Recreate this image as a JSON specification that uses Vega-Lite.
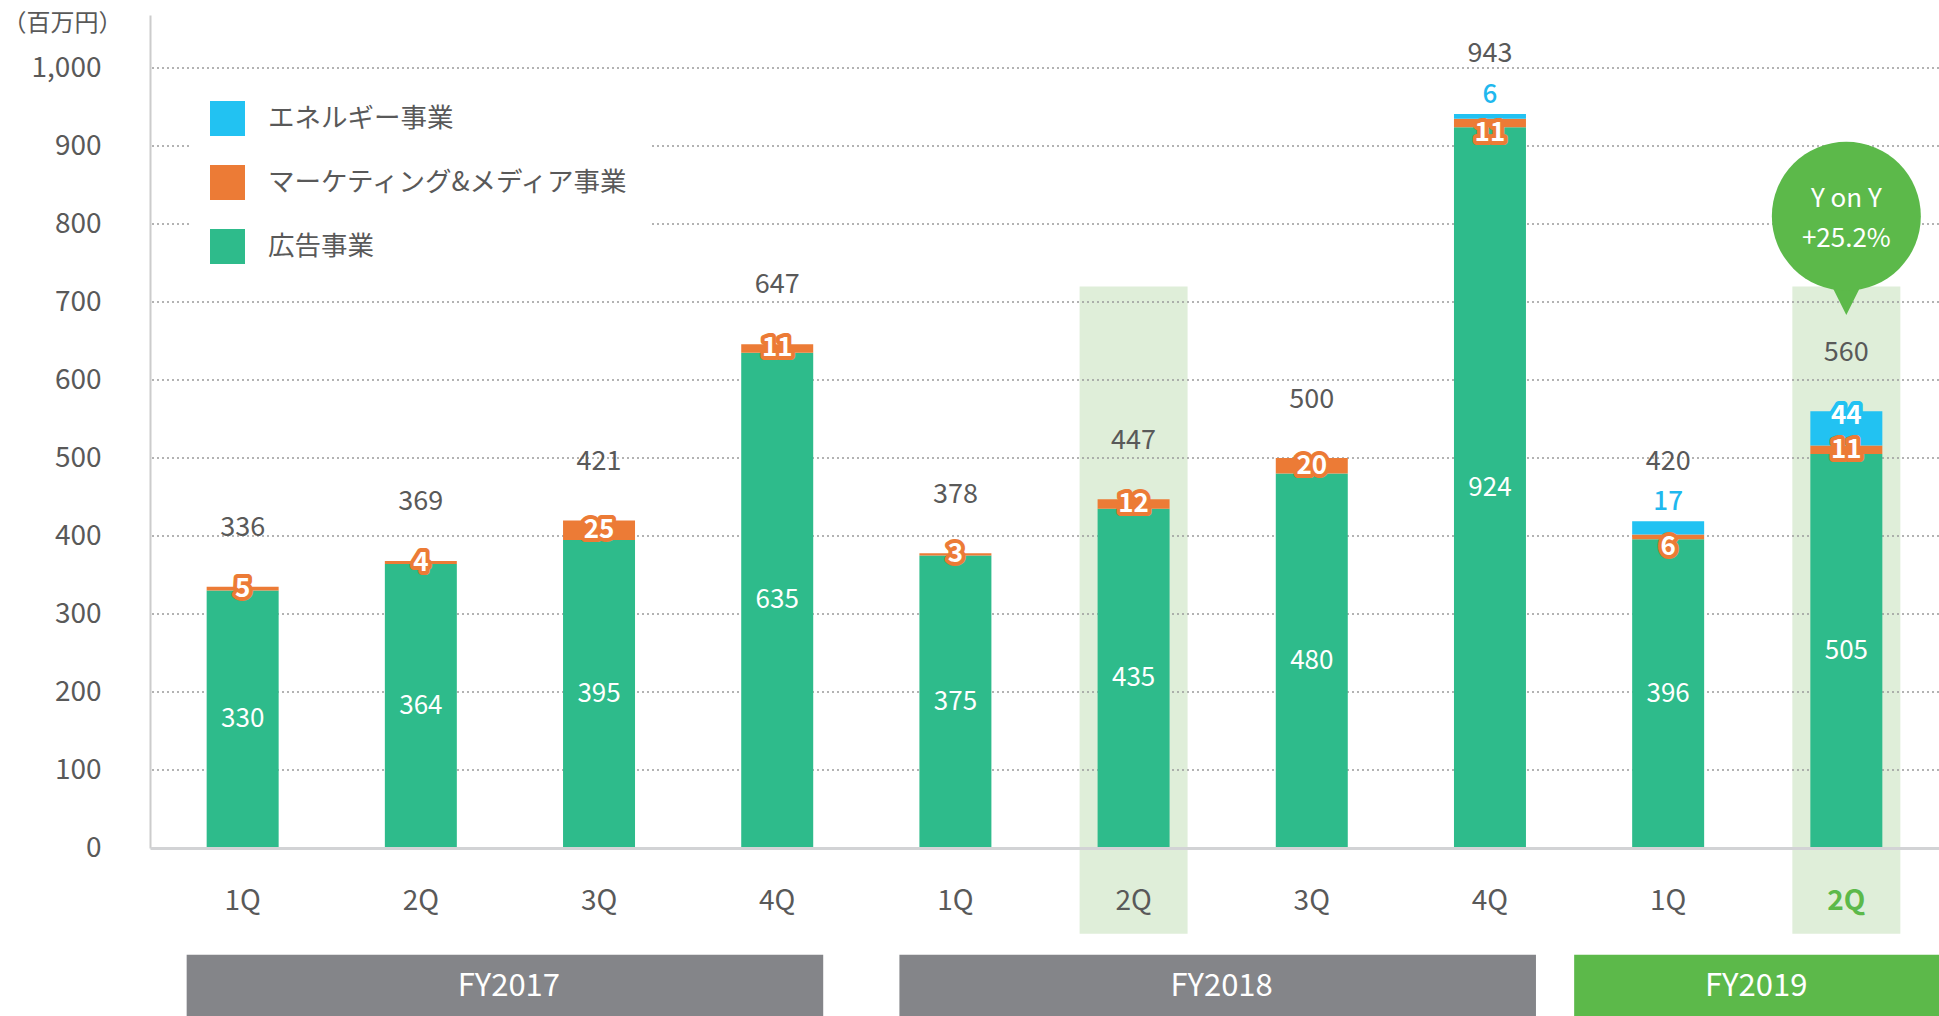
{
  "$schema": "https://vega.github.io/schema/vega-lite/v6.json",
  "autosize": {"type": "none"},
  "width": 1789,
  "height": 833,
  "padding": {"left": 150, "top": 15, "right": 0, "bottom": 168},
  "background": "white",
  "config": {"font": "Noto Sans CJK JP", "view": {"stroke": null}, "axis": {"grid": false, "ticks": false, "tickSize": 0}},
  "datasets": {
    "seg": [
      {"q": "FY2017 1Q", "seg": "広告事業", "v": 330},
      {"q": "FY2017 1Q", "seg": "マーケティング&メディア事業", "v": 5},
      {"q": "FY2017 2Q", "seg": "広告事業", "v": 364},
      {"q": "FY2017 2Q", "seg": "マーケティング&メディア事業", "v": 4},
      {"q": "FY2017 3Q", "seg": "広告事業", "v": 395},
      {"q": "FY2017 3Q", "seg": "マーケティング&メディア事業", "v": 25},
      {"q": "FY2017 4Q", "seg": "広告事業", "v": 635},
      {"q": "FY2017 4Q", "seg": "マーケティング&メディア事業", "v": 11},
      {"q": "FY2018 1Q", "seg": "広告事業", "v": 375},
      {"q": "FY2018 1Q", "seg": "マーケティング&メディア事業", "v": 3},
      {"q": "FY2018 2Q", "seg": "広告事業", "v": 435},
      {"q": "FY2018 2Q", "seg": "マーケティング&メディア事業", "v": 12},
      {"q": "FY2018 3Q", "seg": "広告事業", "v": 480},
      {"q": "FY2018 3Q", "seg": "マーケティング&メディア事業", "v": 20},
      {"q": "FY2018 4Q", "seg": "広告事業", "v": 924},
      {"q": "FY2018 4Q", "seg": "マーケティング&メディア事業", "v": 11},
      {"q": "FY2018 4Q", "seg": "エネルギー事業", "v": 6},
      {"q": "FY2019 1Q", "seg": "広告事業", "v": 396},
      {"q": "FY2019 1Q", "seg": "マーケティング&メディア事業", "v": 6},
      {"q": "FY2019 1Q", "seg": "エネルギー事業", "v": 17},
      {"q": "FY2019 2Q", "seg": "広告事業", "v": 505},
      {"q": "FY2019 2Q", "seg": "マーケティング&メディア事業", "v": 11},
      {"q": "FY2019 2Q", "seg": "エネルギー事業", "v": 44}
    ],
    "tot": [
      {"q": "FY2017 1Q", "t": 336},
      {"q": "FY2017 2Q", "t": 369},
      {"q": "FY2017 3Q", "t": 421},
      {"q": "FY2017 4Q", "t": 647},
      {"q": "FY2018 1Q", "t": 378},
      {"q": "FY2018 2Q", "t": 447},
      {"q": "FY2018 3Q", "t": 500},
      {"q": "FY2018 4Q", "t": 943},
      {"q": "FY2019 1Q", "t": 420},
      {"q": "FY2019 2Q", "t": 560}
    ],
    "fy": [
      {"fy": "FY2017", "start": "FY2017 1Q", "end": "FY2017 4Q", "anchor": "FY2017 2Q"},
      {"fy": "FY2018", "start": "FY2018 1Q", "end": "FY2018 4Q", "anchor": "FY2018 2Q"},
      {"fy": "FY2019", "start": "FY2019 1Q", "end": "FY2019 2Q", "anchor": "FY2019 1Q"}
    ],
    "grid": [{"g": 100}, {"g": 200}, {"g": 300}, {"g": 400}, {"g": 500}, {"g": 600}, {"g": 700}, {"g": 800}, {"g": 900}, {"g": 1000}],
    "hl": [{"q": "FY2018 2Q"}, {"q": "FY2019 2Q"}],
    "bubble": [{"q": "FY2019 2Q", "l1": "Y on Y", "l2": "+25.2%"}]
  },
  "layer": [
    {
      "data": {"name": "hl"},
      "mark": {"type": "bar", "color": "#DFEED9", "width": {"band": 1.5}},
      "encoding": {
        "x": {"field": "q", "type": "nominal", "title": null,
          "scale": {"domain": ["FY2017 1Q","FY2017 2Q","FY2017 3Q","FY2017 4Q","FY2018 1Q","FY2018 2Q","FY2018 3Q","FY2018 4Q","FY2019 1Q","FY2019 2Q"], "paddingInner": 0.596, "paddingOuter": 0.318}},
        "y": {"datum": 720, "type": "quantitative", "scale": {"domain": [0, 1068], "nice": false, "zero": false}},
        "y2": {"datum": -110}
      }
    },
    {
      "data": {"name": "grid"},
      "mark": {"type": "rule", "color": "#9A9A9A", "strokeDash": [2, 3], "strokeWidth": 1.5},
      "encoding": {
        "y": {"field": "g", "type": "quantitative", "scale": {"domain": [0, 1068], "nice": false, "zero": false}}
      }
    },
    {
      "data": {"name": "seg"},
      "transform": [
        {"calculate": "datum.seg === '広告事業' ? 0 : (datum.seg === 'エネルギー事業' ? 2 : 1)", "as": "ord"},
        {"stack": "v", "groupby": ["q"], "sort": [{"field": "ord", "order": "ascending"}], "as": ["v0", "v1"]}
      ],
      "mark": {"type": "bar"},
      "encoding": {
        "x": {"field": "q", "type": "nominal", "title": null,
          "scale": {"domain": ["FY2017 1Q","FY2017 2Q","FY2017 3Q","FY2017 4Q","FY2018 1Q","FY2018 2Q","FY2018 3Q","FY2018 4Q","FY2019 1Q","FY2019 2Q"], "paddingInner": 0.596, "paddingOuter": 0.318}},
        "y": {"field": "v0", "type": "quantitative", "scale": {"domain": [0, 1068], "nice": false, "zero": false}},
        "y2": {"field": "v1"},
        "color": {
          "field": "seg", "type": "nominal",
          "scale": {"domain": ["エネルギー事業", "マーケティング&メディア事業", "広告事業"], "range": ["#22C2F2", "#EC7B36", "#2EBB8B"]},
          "legend": {
            "title": null, "orient": "none", "legendX": 40, "legendY": 66, "fillColor": "white", "padding": 20,
            "symbolType": "square", "symbolSize": 1225, "symbolStrokeWidth": 0, "symbolOpacity": 1,
            "labelFontSize": 26.5, "labelColor": "#595959", "rowPadding": 29, "labelOffset": 23, "labelLimit": 600
          }
        }
      }
    },
    {
      "data": {"name": "seg"},
      "transform": [
        {"calculate": "datum.seg === '広告事業' ? 0 : (datum.seg === 'エネルギー事業' ? 2 : 1)", "as": "ord"},
        {"stack": "v", "groupby": ["q"], "sort": [{"field": "ord", "order": "ascending"}], "as": ["v0", "v1"]},
        {"calculate": "(datum.v0 + datum.v1) / 2", "as": "mid"},
        {"filter": "datum.seg === '広告事業'"}
      ],
      "mark": {"type": "text", "color": "white", "fontSize": 26, "baseline": "middle"},
      "encoding": {
        "x": {"field": "q", "type": "nominal", "title": null,
          "scale": {"domain": ["FY2017 1Q","FY2017 2Q","FY2017 3Q","FY2017 4Q","FY2018 1Q","FY2018 2Q","FY2018 3Q","FY2018 4Q","FY2019 1Q","FY2019 2Q"], "paddingInner": 0.596, "paddingOuter": 0.318}},
        "y": {"field": "mid", "type": "quantitative", "scale": {"domain": [0, 1068], "nice": false, "zero": false}},
        "text": {"field": "v", "type": "quantitative"}
      }
    },
    {
      "data": {"name": "seg"},
      "transform": [
        {"calculate": "datum.seg === '広告事業' ? 0 : (datum.seg === 'エネルギー事業' ? 2 : 1)", "as": "ord"},
        {"stack": "v", "groupby": ["q"], "sort": [{"field": "ord", "order": "ascending"}], "as": ["v0", "v1"]},
        {"calculate": "datum.seg === 'エネルギー事業' ? datum.v : 0", "as": "ev"},
        {"joinaggregate": [{"op": "max", "field": "ev", "as": "qev"}], "groupby": ["q"]},
        {"calculate": "(datum.v0 + datum.v1) / 2 - ((datum.qev > 0 && datum.qev < 20) ? 13 : 0)", "as": "mid"},
        {"filter": "datum.seg === 'マーケティング&メディア事業'"}
      ],
      "layer": [
        {"mark": {"type": "text", "fontSize": 26, "fontWeight": "bold", "baseline": "middle", "strokeWidth": 8, "strokeJoin": "round", "stroke": "#EC7B36", "fill": "#EC7B36"}},
        {"mark": {"type": "text", "fontSize": 26, "fontWeight": "bold", "baseline": "middle", "color": "white"}}
      ],
      "encoding": {
        "x": {"field": "q", "type": "nominal", "title": null,
          "scale": {"domain": ["FY2017 1Q","FY2017 2Q","FY2017 3Q","FY2017 4Q","FY2018 1Q","FY2018 2Q","FY2018 3Q","FY2018 4Q","FY2019 1Q","FY2019 2Q"], "paddingInner": 0.596, "paddingOuter": 0.318}},
        "y": {"field": "mid", "type": "quantitative", "scale": {"domain": [0, 1068], "nice": false, "zero": false}},
        "text": {"field": "v", "type": "quantitative"}
      }
    },
    {
      "data": {"name": "seg"},
      "transform": [
        {"calculate": "datum.seg === '広告事業' ? 0 : (datum.seg === 'エネルギー事業' ? 2 : 1)", "as": "ord"},
        {"stack": "v", "groupby": ["q"], "sort": [{"field": "ord", "order": "ascending"}], "as": ["v0", "v1"]},
        {"calculate": "(datum.v0 + datum.v1) / 2", "as": "mid"},
        {"filter": "datum.seg === 'エネルギー事業' && datum.v >= 20"}
      ],
      "layer": [
        {"mark": {"type": "text", "fontSize": 26, "fontWeight": "bold", "baseline": "middle", "dy": -12, "strokeWidth": 8, "strokeJoin": "round", "stroke": "#22C2F2", "fill": "#22C2F2"}},
        {"mark": {"type": "text", "fontSize": 26, "fontWeight": "bold", "baseline": "middle", "dy": -12, "color": "white"}}
      ],
      "encoding": {
        "x": {"field": "q", "type": "nominal", "title": null,
          "scale": {"domain": ["FY2017 1Q","FY2017 2Q","FY2017 3Q","FY2017 4Q","FY2018 1Q","FY2018 2Q","FY2018 3Q","FY2018 4Q","FY2019 1Q","FY2019 2Q"], "paddingInner": 0.596, "paddingOuter": 0.318}},
        "y": {"field": "mid", "type": "quantitative", "scale": {"domain": [0, 1068], "nice": false, "zero": false}},
        "text": {"field": "v", "type": "quantitative"}
      }
    },
    {
      "data": {"name": "seg"},
      "transform": [
        {"calculate": "datum.seg === '広告事業' ? 0 : (datum.seg === 'エネルギー事業' ? 2 : 1)", "as": "ord"},
        {"stack": "v", "groupby": ["q"], "sort": [{"field": "ord", "order": "ascending"}], "as": ["v0", "v1"]},
        {"filter": "datum.seg === 'エネルギー事業' && datum.v < 20"}
      ],
      "mark": {"type": "text", "color": "#1FB8EE", "fontSize": 26, "fontWeight": 500, "baseline": "middle", "dy": -19},
      "encoding": {
        "x": {"field": "q", "type": "nominal", "title": null,
          "scale": {"domain": ["FY2017 1Q","FY2017 2Q","FY2017 3Q","FY2017 4Q","FY2018 1Q","FY2018 2Q","FY2018 3Q","FY2018 4Q","FY2019 1Q","FY2019 2Q"], "paddingInner": 0.596, "paddingOuter": 0.318}},
        "y": {"field": "v1", "type": "quantitative", "scale": {"domain": [0, 1068], "nice": false, "zero": false}},
        "text": {"field": "v", "type": "quantitative"}
      }
    },
    {
      "data": {"name": "tot"},
      "mark": {"type": "text", "color": "#595959", "fontSize": 27, "baseline": "middle", "dy": -58},
      "encoding": {
        "x": {
          "field": "q", "type": "nominal", "title": null,
          "scale": {"domain": ["FY2017 1Q","FY2017 2Q","FY2017 3Q","FY2017 4Q","FY2018 1Q","FY2018 2Q","FY2018 3Q","FY2018 4Q","FY2019 1Q","FY2019 2Q"], "paddingInner": 0.596, "paddingOuter": 0.318},
          "axis": {
            "title": null, "labelExpr": "split(datum.label, ' ')[1]", "labelAngle": 0, "labelFontSize": 28, "labelAlign": "center",
            "bandPosition": 0.5,
            "labelColor": {"condition": {"test": "datum.value === 'FY2019 2Q'", "value": "#5CB94A"}, "value": "#595959"},
            "labelFontWeight": {"condition": {"test": "datum.value === 'FY2019 2Q'", "value": "bold"}, "value": "normal"},
            "labelPadding": 53, "labelBaseline": "middle", "ticks": false, "tickSize": 0,
            "domainColor": "#D2D3D5", "domainWidth": 3, "grid": false, "zindex": 1
          }
        },
        "y": {
          "field": "t", "type": "quantitative", "scale": {"domain": [0, 1068], "nice": false, "zero": false},
          "axis": {
            "title": "（百万円）", "titleAngle": 0, "titleX": -88, "titleY": 8, "titleAlign": "center", "titleBaseline": "middle",
            "titleFontSize": 24, "titleFontWeight": "normal", "titleColor": "#595959",
            "values": [0, 100, 200, 300, 400, 500, 600, 700, 800, 900, 1000], "format": ",d",
            "labelFontSize": 28, "labelColor": "#595959", "labelPadding": 49, "ticks": false, "tickSize": 0,
            "domainColor": "#CCCCCC", "domainWidth": 2, "grid": false, "zindex": 0
          }
        },
        "text": {"field": "t", "type": "quantitative"}
      }
    },
    {
      "data": {"name": "fy"},
      "transform": [{"filter": "datum.fy !== 'FY2019'"}],
      "mark": {"type": "rect", "color": "#848589", "xOffset": -20, "x2Offset": 10},
      "encoding": {
        "x": {"field": "start", "type": "nominal", "title": null, "bandPosition": 0,
          "scale": {"domain": ["FY2017 1Q","FY2017 2Q","FY2017 3Q","FY2017 4Q","FY2018 1Q","FY2018 2Q","FY2018 3Q","FY2018 4Q","FY2019 1Q","FY2019 2Q"], "paddingInner": 0.596, "paddingOuter": 0.318}},
        "x2": {"field": "end", "bandPosition": 1},
        "y": {"datum": -137, "type": "quantitative", "scale": {"domain": [0, 1068], "nice": false, "zero": false}},
        "y2": {"datum": -216}
      }
    },
    {
      "data": {"name": "fy"},
      "transform": [{"filter": "datum.fy === 'FY2019'"}],
      "mark": {"type": "rect", "color": "#5CB94A", "xOffset": -58, "x2Offset": 60},
      "encoding": {
        "x": {"field": "start", "type": "nominal", "title": null, "bandPosition": 0,
          "scale": {"domain": ["FY2017 1Q","FY2017 2Q","FY2017 3Q","FY2017 4Q","FY2018 1Q","FY2018 2Q","FY2018 3Q","FY2018 4Q","FY2019 1Q","FY2019 2Q"], "paddingInner": 0.596, "paddingOuter": 0.318}},
        "x2": {"field": "end", "bandPosition": 1},
        "y": {"datum": -137, "type": "quantitative", "scale": {"domain": [0, 1068], "nice": false, "zero": false}},
        "y2": {"datum": -216}
      }
    },
    {
      "data": {"name": "fy"},
      "mark": {"type": "text", "color": "white", "fontSize": 31, "baseline": "middle", "dx": 88},
      "encoding": {
        "x": {"field": "anchor", "type": "nominal", "title": null,
          "scale": {"domain": ["FY2017 1Q","FY2017 2Q","FY2017 3Q","FY2017 4Q","FY2018 1Q","FY2018 2Q","FY2018 3Q","FY2018 4Q","FY2019 1Q","FY2019 2Q"], "paddingInner": 0.596, "paddingOuter": 0.318}},
        "y": {"datum": -178, "type": "quantitative", "scale": {"domain": [0, 1068], "nice": false, "zero": false}},
        "text": {"field": "fy", "type": "nominal"}
      }
    },
    {
      "data": {"name": "bubble"},
      "encoding": {
        "x": {"field": "q", "type": "nominal", "title": null,
          "scale": {"domain": ["FY2017 1Q","FY2017 2Q","FY2017 3Q","FY2017 4Q","FY2018 1Q","FY2018 2Q","FY2018 3Q","FY2018 4Q","FY2019 1Q","FY2019 2Q"], "paddingInner": 0.596, "paddingOuter": 0.318}}
      },
      "layer": [
        {
          "mark": {"type": "point", "shape": "M -1 -1 L 1 -1 L 0 1 Z", "filled": true, "color": "#5CB94A", "opacity": 1, "size": 1936, "strokeWidth": 0},
          "encoding": {"y": {"datum": 711.5, "type": "quantitative", "scale": {"domain": [0, 1068], "nice": false, "zero": false}}}
        },
        {
          "mark": {"type": "point", "shape": "circle", "filled": true, "color": "#5CB94A", "opacity": 1, "size": 22201, "strokeWidth": 0},
          "encoding": {"y": {"datum": 810, "type": "quantitative", "scale": {"domain": [0, 1068], "nice": false, "zero": false}}}
        },
        {
          "mark": {"type": "text", "color": "white", "fontSize": 26, "baseline": "middle", "dy": -17},
          "encoding": {
            "y": {"datum": 810, "type": "quantitative", "scale": {"domain": [0, 1068], "nice": false, "zero": false}},
            "text": {"field": "l1", "type": "nominal"}
          }
        },
        {
          "mark": {"type": "text", "color": "white", "fontSize": 26, "baseline": "middle", "dy": 23},
          "encoding": {
            "y": {"datum": 810, "type": "quantitative", "scale": {"domain": [0, 1068], "nice": false, "zero": false}},
            "text": {"field": "l2", "type": "nominal"}
          }
        }
      ]
    }
  ]
}
